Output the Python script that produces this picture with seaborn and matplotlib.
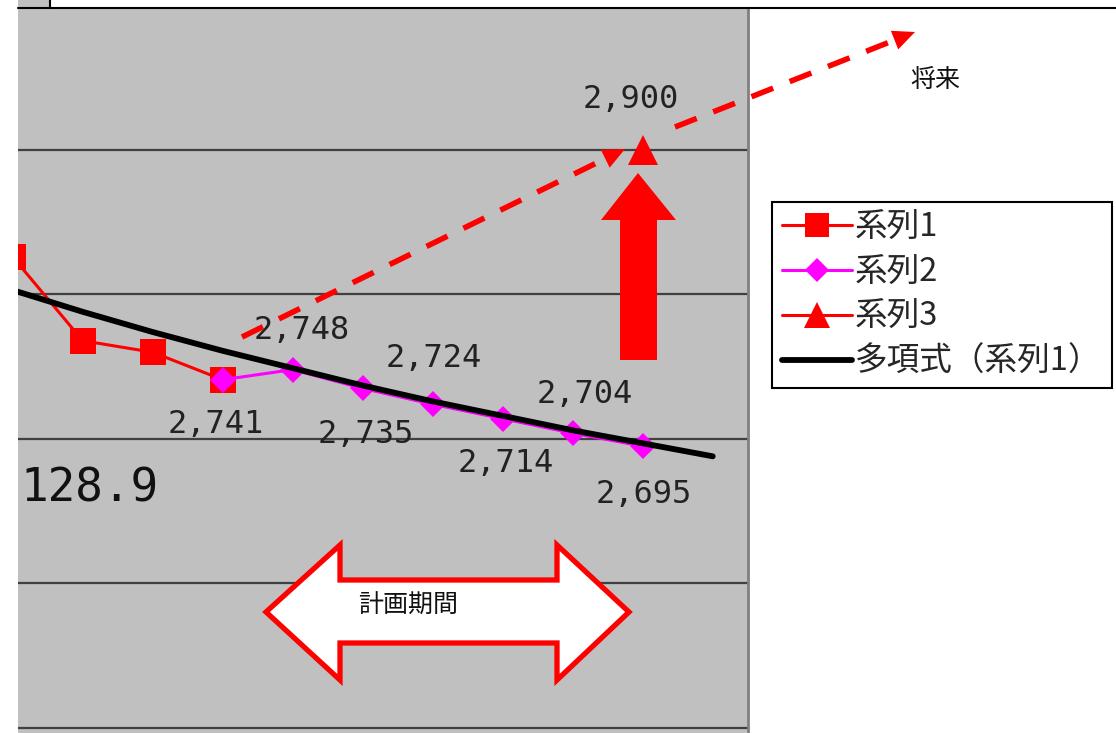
import numpy as np
import matplotlib
matplotlib.use("Agg")
import matplotlib.pyplot as plt
import seaborn as sns
from matplotlib.patches import Polygon, Rectangle
from matplotlib.lines import Line2D

# ---- data -------------------------------------------------------------
periods = list(range(11))

s1_periods = [0, 1, 2, 3]
s1_values = [2826, 2768, 2760, 2741]

s2_periods = [3, 4, 5, 6, 7, 8, 9]
s2_values = [2741, 2748, 2735, 2724, 2714, 2704, 2695]

s3_periods = [9]
s3_values = [2900]

trend_periods = periods
trend_values = [2803, 2788, 2774, 2761, 2749, 2737, 2726, 2716, 2706, 2697, 2688]

grid_values = [2500, 2600, 2700, 2800, 2900]

series_names = ["系列1", "系列2", "系列3", "多項式（系列1）"]
side_note = "128.9"
future_label = "将来"
plan_label = "計画期間"

# ---- style ------------------------------------------------------------
sns.set_style("white")
plt.rcParams["font.family"] = ["Noto Sans CJK JP", "DejaVu Sans"]

RED = "#FF0000"
MAGENTA = "#FF00FF"
W, H = 1116, 733

fig = plt.figure(figsize=(W / 100, H / 100), dpi=100)
fig.patch.set_facecolor("white")


def fp(x, y):
    """pixel position measured from the top-left corner -> figure fraction"""
    return (x / W, 1 - y / H)


ax = fig.add_axes([18 / W, 0, (748 - 18) / W, 1])
ax.set_facecolor("#C0C0C0")
ax.set_xlim(0.0757, 10.504)
ax.set_ylim(2496.5, 3003.8)
for v in grid_values:
    ax.axhline(v, color="#404040", lw=1.6, zorder=1)

for side in ["left", "top", "bottom"]:
    ax.spines[side].set_visible(False)
ax.spines["right"].set_color("#808080")
ax.spines["right"].set_linewidth(2.0)
ax.set_xticks([])
ax.set_yticks([])
ax.set_xlabel("")
ax.set_ylabel("")

# ---- series -----------------------------------------------------------
sns.lineplot(x=s1_periods, y=s1_values, ax=ax, color=RED, lw=2.2,
             marker="s", markersize=19, markeredgewidth=0,
             label=series_names[0], zorder=3)
sns.lineplot(x=s2_periods, y=s2_values, ax=ax, color=MAGENTA, lw=2.2,
             marker="D", markersize=13.5, markeredgewidth=0,
             label=series_names[1], zorder=4)
sns.lineplot(x=s3_periods, y=s3_values, ax=ax, color=RED, lw=2.2,
             marker="^", markersize=21, markeredgewidth=0,
             label=series_names[2], zorder=4)
sns.lineplot(x=trend_periods, y=trend_values, ax=ax, color="black", lw=4.2,
             label=series_names[3], zorder=5)

# data labels (offsets in pixels: right, down)
label_offsets = [(-7, 45), (9, -39), (3, 46), (1, -46), (3, 45), (12, -39), (1, 48)]
for p, v, (dx, dy) in zip(s2_periods, s2_values, label_offsets):
    ax.annotate(f"{v:,}", (p, v), xytext=(dx, -dy), textcoords="offset pixels",
                ha="center", va="center", fontsize=23, color="#222222",
                family="DejaVu Sans Mono", zorder=6)
for p, v in zip(s3_periods, s3_values):
    ax.annotate(f"{v:,}", (p, v), xytext=(-12, 50), textcoords="offset pixels",
                ha="center", va="center", fontsize=23, color="#222222",
                family="DejaVu Sans Mono", zorder=6)

# ---- legend -----------------------------------------------------------
handles, labels = ax.get_legend_handles_labels()
leg = ax.legend(handles, labels, loc="upper left", bbox_to_anchor=fp(772, 202),
                bbox_transform=fig.transFigure, frameon=True, fancybox=False,
                edgecolor="black", framealpha=1, fontsize=23.5, handlelength=2.15,
                handletextpad=0.1, borderpad=0.3, labelspacing=0.39,
                borderaxespad=0, markerscale=0.9)
leg.get_frame().set_linewidth(1.5)
leg.set_zorder(10)

# ---- free-standing text ---------------------------------------------
fig.text(*fp(20, 489), side_note, ha="left", va="center", fontsize=33,
         family="DejaVu Sans Mono", color="#111111")
fig.text(*fp(935, 80), future_label, ha="center", va="center", fontsize=18,
         color="#111111", zorder=6)

# ---- shapes -----------------------------------------------------------
# white caption box above the plot area
fig.add_artist(Rectangle(fp(50, 8), (1130 - 50) / W, 20 / H, transform=fig.transFigure,
                         facecolor="white", edgecolor="black", lw=1.5, zorder=2))
fig.add_artist(Line2D([18 / W, 50 / W], [1 - 8 / H, 1 - 8 / H], transform=fig.transFigure,
                      color="black", lw=1.5, zorder=2))

# solid upward block arrow
up_arrow = [(638, 173), (676, 220), (657, 220), (657, 360), (620, 360), (620, 220), (601, 220)]
fig.add_artist(Polygon([fp(*p) for p in up_arrow], closed=True, transform=fig.transFigure,
                       facecolor=RED, edgecolor="none", zorder=3))

# double-headed outline arrow
both_arrow = [(266, 612), (340, 545), (340, 580), (557, 580), (557, 545), (629, 612),
              (557, 680), (557, 643), (340, 643), (340, 680)]
fig.add_artist(Polygon([fp(*p) for p in both_arrow], closed=True, transform=fig.transFigure,
                       facecolor="white", edgecolor=RED, lw=3.8, joinstyle="miter", zorder=3))
fig.text(*fp(408, 606), plan_label, ha="center", va="center", fontsize=18,
         color="#111111", zorder=6)


def dashed_arrow(x0, y0, x1, y1, head_len=22, head_w=20):
    d = np.array([x1 - x0, y1 - y0], dtype=float)
    d /= np.hypot(*d)
    n = np.array([-d[1], d[0]])
    tip = np.array([x1, y1], dtype=float)
    base = tip - d * head_len
    fig.add_artist(Line2D([x0 / W, base[0] / W], [1 - y0 / H, 1 - base[1] / H],
                          transform=fig.transFigure, color=RED, lw=4.0,
                          linestyle=(0, (4.2, 3.2)), dash_capstyle="butt", zorder=4))
    head = [tip, base + n * head_w / 2, base - n * head_w / 2]
    fig.add_artist(Polygon([fp(*p) for p in head], closed=True, transform=fig.transFigure,
                           facecolor=RED, edgecolor="none", zorder=4))


dashed_arrow(242, 337, 625, 149)
dashed_arrow(675, 127, 915, 32)

fig.savefig("out.png", dpi=100)
